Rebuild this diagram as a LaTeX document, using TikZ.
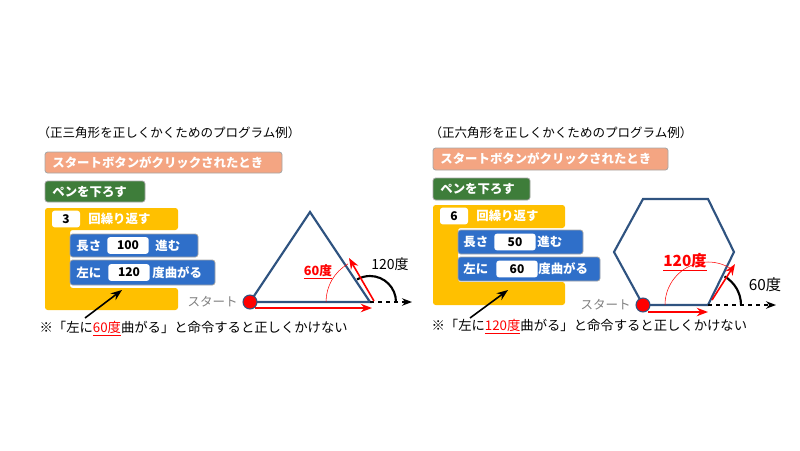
\documentclass[tikz,border=0pt]{standalone}
\usepackage{fontspec}
\setmainfont{Noto Sans CJK JP}
\usetikzlibrary{positioning,arrows.meta,calc}
\definecolor{orangeblk}{HTML}{F4A582}
\definecolor{greenblk}{HTML}{3E7D3A}
\definecolor{yellowblk}{HTML}{FFC000}
\definecolor{blueblk}{HTML}{2F6FC9}
\definecolor{edgeblue}{HTML}{2F5380}
\tikzset{
  >=Stealth,
  block/.style={rounded corners=2pt, draw=black!35, line width=0.6pt, text=white,
    font=\fontsize{9.3}{10}\selectfont\bfseries, inner sep=0pt},
  slot/.style={fill=white, rounded corners=2pt, text=black, minimum height=12.5pt,
    font=\fontsize{9}{10}\selectfont\bfseries, inner sep=0pt},
  lbl/.style={font=\fontsize{9.4}{10}\selectfont, inner sep=1pt},
  note/.style={font=\fontsize{10}{11}\selectfont, inner sep=1pt},
  redlbl/.style={text=red, font=\fontsize{9.5}{10}\selectfont\bfseries},
  outline/.style={draw=edgeblue, line width=1.6pt, line join=miter},
  redarrow/.style={->, red, line width=1.2pt},
  dasharrow/.style={->, dashed, line width=1pt},
  turnarc/.style={line width=1.6pt},
}
\begin{document}
\begin{tikzpicture}[x=0.75pt,y=-0.75pt]
  \useasboundingbox (0,0) rectangle (800,450);
  % left panel: triangle
  \node[lbl, anchor=west] (ttl1) at (36,133) {（正三角形を正しくかくためのプログラム例）};
  \filldraw[block, fill=orangeblk] (45,152) rectangle (282,173);
  \node[block, draw=none, anchor=west] (start1) at (52,162.5) {スタートボタンがクリックされたとき};
  \filldraw[block, fill=greenblk] (45,181) rectangle (145,202);
  \node[block, draw=none, anchor=west] (pen1) at (52,191.5) {ペンを下ろす};
  \fill[yellowblk, rounded corners=2pt] (45,208) -- (178,208) -- (178,230) -- (70,230)
    -- (70,288) -- (178,288) -- (178,310) -- (45,310) -- cycle;
  \node[slot, minimum width=21pt] (rep1) at (66,219) {3};
  \node[block, draw=none, anchor=west] (reptxt1) at (88,219) {回繰り返す};
  \filldraw[block, fill=blueblk] (70,234) rectangle (198,257);
  \node[block, draw=none, anchor=west] (fw1) at (76,245.5) {長さ};
  \node[slot, minimum width=31pt] (fwv1) at (128,245.5) {100};
  \node[block, draw=none, anchor=west] (fwt1) at (155,245.5) {進む};
  \filldraw[block, fill=blueblk] (70,260) rectangle (215,285);
  \node[block, draw=none, anchor=west] (tl1) at (76,272.5) {左に};
  \node[slot, minimum width=31pt] (tlv1) at (129,272.5) {120};
  \node[block, draw=none, anchor=west] (tlt1) at (152,272.5) {度曲がる};
  \coordinate (ptr1) at (85,318);
  \draw[->, line width=1.2pt] (ptr1) -- (122,290);
  \node[note, anchor=west] (note1) at (38,329) {※「左に\textcolor{red}{\underline{60度}}曲がる」と命令すると正しくかけない};
  \coordinate (a1) at (250,302);
  \coordinate (b1) at (370,302);
  \coordinate (c1) at (310,212);
  \draw[outline] (a1) -- (b1) -- (c1) -- cycle;
  \coordinate (out1) at (412,302);
  \draw[dasharrow] (b1) -- (out1);
  \draw[turnarc] ($(b1)+(26,0)$) arc[start angle=0, end angle=-120, radius=26];
  \draw[red, thin] ($(b1)+(-44,0)$) arc[start angle=180, end angle=240, radius=44];
  \draw[redarrow] (255,308) -- (372,308);
  \draw[redarrow] (374,301) -- (349,258);
  \fill[red] (a1) circle[radius=7];
  \draw[edgeblue, thick] (a1) circle[radius=7];
  \node[lbl, text=gray, left=8pt of a1] (st1) {スタート};
  \node[lbl, font=\fontsize{10.5}{11}\selectfont] (ang1) at (390,264) {120度};
  \node[redlbl] (in1) at (318,272) {\underline{60度}};
  % right panel: hexagon
  \node[lbl, anchor=west] (ttl2) at (428,133) {（正六角形を正しくかくためのプログラム例）};
  \filldraw[block, fill=orangeblk] (433,148) rectangle (668,170);
  \node[block, draw=none, anchor=west] (start2) at (440,159) {スタートボタンがクリックされたとき};
  \filldraw[block, fill=greenblk] (433,178) rectangle (530,200);
  \node[block, draw=none, anchor=west] (pen2) at (440,189) {ペンを下ろす};
  \fill[yellowblk, rounded corners=2pt] (433,205) -- (565,205) -- (565,228) -- (458,228)
    -- (458,282) -- (565,282) -- (565,305) -- (433,305) -- cycle;
  \node[slot, minimum width=21pt] (rep2) at (454,216) {6};
  \node[block, draw=none, anchor=west] (reptxt2) at (476,216) {回繰り返す};
  \filldraw[block, fill=blueblk] (458,230) rectangle (583,254);
  \node[block, draw=none, anchor=west] (fw2) at (463,242) {長さ};
  \node[slot, minimum width=31pt] (fwv2) at (515,242) {50};
  \node[block, draw=none, anchor=west] (fwt2) at (537,242) {進む};
  \filldraw[block, fill=blueblk] (458,257) rectangle (600,281);
  \node[block, draw=none, anchor=west] (tl2) at (463,269) {左に};
  \node[slot, minimum width=31pt] (tlv2) at (517,269) {60};
  \node[block, draw=none, anchor=west] (tlt2) at (538,269) {度曲がる};
  \coordinate (ptr2) at (470,318);
  \draw[->, line width=1.2pt] (ptr2) -- (508,290);
  \node[note, anchor=west] (note2) at (430,327) {※「左に\textcolor{red}{\underline{120度}}曲がる」と命令すると正しくかけない};
  \coordinate (a2) at (643,305);
  \coordinate (b2) at (708,305);
  \draw[outline] (a2) -- (b2) -- (734,252) -- (708,199) -- (643,199) -- (614,252) -- cycle;
  \coordinate (out2) at (776,305);
  \draw[dasharrow] (b2) -- (out2);
  \draw[turnarc] ($(b2)+(33,0)$) arc[start angle=0, end angle=-60, radius=33];
  \draw[red, thin] ($(b2)+(-43,0)$) arc[start angle=180, end angle=305, radius=43];
  \draw[redarrow] (648,312) -- (708,312);
  \draw[redarrow] (712,300) -- (735,264);
  \fill[red] (a2) circle[radius=7];
  \draw[edgeblue, thick] (a2) circle[radius=7];
  \node[lbl, text=gray, left=8pt of a2] (st2) {スタート};
  \node[lbl, font=\fontsize{11.5}{12}\selectfont] (ang2) at (765,285) {60度};
  \node[redlbl, font=\fontsize{11.5}{12}\selectfont\bfseries] (in2) at (685,262) {\underline{120度}};
\end{tikzpicture}
\end{document}
